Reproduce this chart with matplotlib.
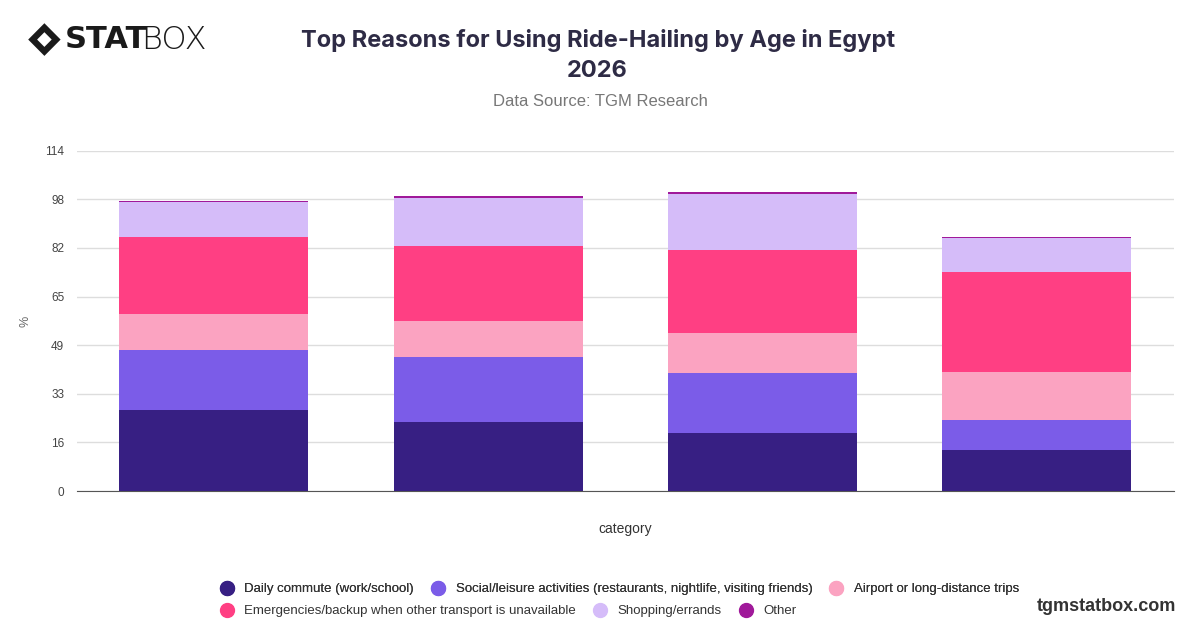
import matplotlib
matplotlib.use('Agg')
import matplotlib.pyplot as plt
from matplotlib.lines import Line2D
from matplotlib.patches import Polygon
import numpy as np

plt.rcParams['font.family'] = ['Liberation Sans', 'DejaVu Sans']

groups = ['18-24', '25-34', '35-44', '45+']
series = [
    'Daily commute (work/school)',
    'Social/leisure activities (restaurants, nightlife, visiting friends)',
    'Airport or long-distance trips',
    'Emergencies/backup when other transport is unavailable',
    'Shopping/errands',
    'Other',
]
commute = [27.3, 23.3, 19.6, 13.7]
social = [20.1, 21.9, 20.2, 10.3]
airport = [12.1, 12.0, 13.2, 16.0]
emergency = [26.0, 25.2, 28.1, 33.7]
shopping = [11.7, 16.2, 18.8, 11.4]
other = [0.4, 0.6, 0.6, 0.4]
colors = ['#371F83', '#7B5CE8', '#FBA3C1', '#FF3F83', '#D5BCF9', '#A0199A']

y_max = 114.4
y_ticks = np.linspace(0, y_max, 8)

fig = plt.figure(figsize=(12, 6.28), dpi=100)
ax = fig.add_axes([0.064, 0.218, 0.914, 0.542])

x = np.arange(len(groups))
bottom = np.zeros(len(groups))
for vals, col in zip([commute, social, airport, emergency, shopping, other], colors):
    ax.bar(x, vals, bottom=bottom, width=0.69, color=col, zorder=3)
    bottom += np.array(vals)

ax.set_xlim(-0.5, len(groups) - 0.5)
ax.set_ylim(0, y_max)
ax.set_yticks(y_ticks)
ax.set_yticklabels([f'{v:.0f}' for v in y_ticks], fontsize=8.5, color='#444444')
ax.set_xticks([])
ax.grid(axis='y', color='#DDDDDD', linewidth=1, zorder=0)
for s in ['top', 'right', 'left']:
    ax.spines[s].set_visible(False)
ax.spines['bottom'].set_color('#555555')
ax.tick_params(axis='y', length=0, pad=9)
ax.set_ylabel('%', fontsize=9, color='#666666', labelpad=10)
ax.set_xlabel('category', fontsize=10, color='#333333', labelpad=22)

# titles
fig.text(0.498, 0.935, 'Top Reasons for Using Ride-Hailing by Age in Egypt', ha='center', va='center',
         fontsize=17, fontweight='bold', color='#2E2B45', family=['Inter', 'DejaVu Sans'])
fig.text(0.498, 0.887, '2026', ha='center', va='center',
         fontsize=17, fontweight='bold', color='#2E2B45', family=['Inter', 'DejaVu Sans'])
fig.text(0.5, 0.838, 'Data Source: TGM Research', ha='center', va='center',
         fontsize=12, color='#777777')

# logo
cx, cy = 0.037, 0.937
dx, dy = 0.0135, 0.026
fig.add_artist(Polygon([[cx - dx, cy], [cx, cy + dy], [cx + dx, cy], [cx, cy - dy]],
                       closed=True, transform=fig.transFigure, facecolor='#1A1A1A'))
fig.add_artist(Polygon([[cx - dx * 0.45, cy], [cx, cy + dy * 0.45], [cx + dx * 0.45, cy], [cx, cy - dy * 0.45]],
                       closed=True, transform=fig.transFigure, facecolor='white'))
fig.text(0.054, 0.937, 'STAT', ha='left', va='center', fontsize=22, fontweight='black',
         color='#1A1A1A', family=['DejaVu Sans'])
fig.text(0.118, 0.937, 'BOX', ha='left', va='center', fontsize=23, fontweight='light',
         color='#1A1A1A', family=['DejaVu Sans'])

# legend in two rows
handles = [Line2D([0], [0], marker='o', linestyle='', markersize=10, markerfacecolor=c,
                  markeredgecolor=c) for c in colors]
leg1 = fig.legend(handles[:3], series[:3], loc='center left', bbox_to_anchor=(0.168, 0.062),
                  ncol=3, frameon=False, fontsize=9.5, handletextpad=0.35, columnspacing=0.8,
                  labelcolor='#333333')
fig.add_artist(leg1)
fig.legend(handles[3:], series[3:], loc='center left', bbox_to_anchor=(0.168, 0.027),
           ncol=3, frameon=False, fontsize=9.5, handletextpad=0.35, columnspacing=0.8,
           labelcolor='#333333')

fig.text(0.98, 0.035, 'tgmstatbox.com', ha='right', va='center', fontsize=13,
         fontweight='bold', color='#333333')

fig.savefig('out.png', dpi=100, facecolor='white')
